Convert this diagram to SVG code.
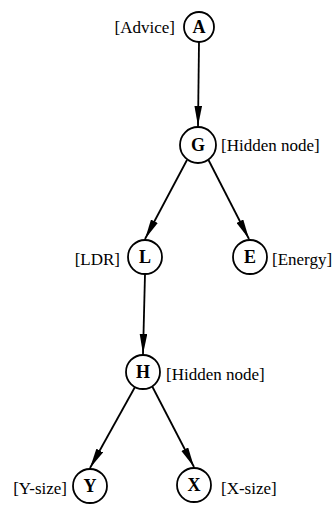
<svg xmlns="http://www.w3.org/2000/svg" width="333" height="506" viewBox="0 0 333 506">
<style>
.node circle{fill:#fff;stroke:#000;stroke-width:1.8}
.node .id{font-family:"Liberation Serif","Times New Roman",serif;font-weight:bold;font-size:18px;text-anchor:middle;fill:#000}
.lbl{font-family:"Liberation Serif","Times New Roman",serif;font-size:17px;fill:#000}
.edge{stroke:#000;stroke-width:1.8;fill:none;marker-end:url(#arr)}
</style>
<defs>
<marker id="arr" markerUnits="userSpaceOnUse" viewBox="0 -4 20 8" refX="20" refY="0" markerWidth="20" markerHeight="8" orient="auto">
<path d="M0,-3.8 L20,0 L0,3.8 z" fill="#000"/>
</marker>
</defs>
<rect width="333" height="506" fill="#fff"/>
<g id="connectors">
<line class="edge" x1="199" y1="42" x2="198" y2="126"/>
<line class="edge" x1="187" y1="160" x2="145" y2="239"/>
<line class="edge" x1="208.5" y1="160" x2="249" y2="239"/>
<line class="edge" x1="145" y1="274" x2="143" y2="354"/>
<line class="edge" x1="135" y1="387" x2="90" y2="468"/>
<line class="edge" x1="152" y1="386" x2="194" y2="467"/>
</g>
<g id="A" class="node"><circle cx="199" cy="27" r="15"/><text class="id" x="199" y="33">A</text><text class="lbl" x="175" y="33" text-anchor="end">[Advice]</text></g>
<g id="G" class="node"><circle cx="198" cy="145" r="18"/><text class="id" x="198" y="151">G</text><text class="lbl" x="221" y="151">[Hidden node]</text></g>
<g id="L" class="node"><circle cx="145" cy="257" r="17"/><text class="id" x="145" y="263">L</text><text class="lbl" x="120" y="265" text-anchor="end">[LDR]</text></g>
<g id="E" class="node"><circle cx="250" cy="257" r="17"/><text class="id" x="250" y="263">E</text><text class="lbl" x="272" y="265">[Energy]</text></g>
<g id="H" class="node"><circle cx="143" cy="372" r="17"/><text class="id" x="143" y="378">H</text><text class="lbl" x="166" y="380">[Hidden node]</text></g>
<g id="Y" class="node"><circle cx="90" cy="486" r="17"/><text class="id" x="90" y="492">Y</text><text class="lbl" x="67" y="494" text-anchor="end">[Y-size]</text></g>
<g id="X" class="node"><circle cx="194" cy="485" r="17"/><text class="id" x="194" y="491">X</text><text class="lbl" x="221" y="494">[X-size]</text></g>
</svg>
